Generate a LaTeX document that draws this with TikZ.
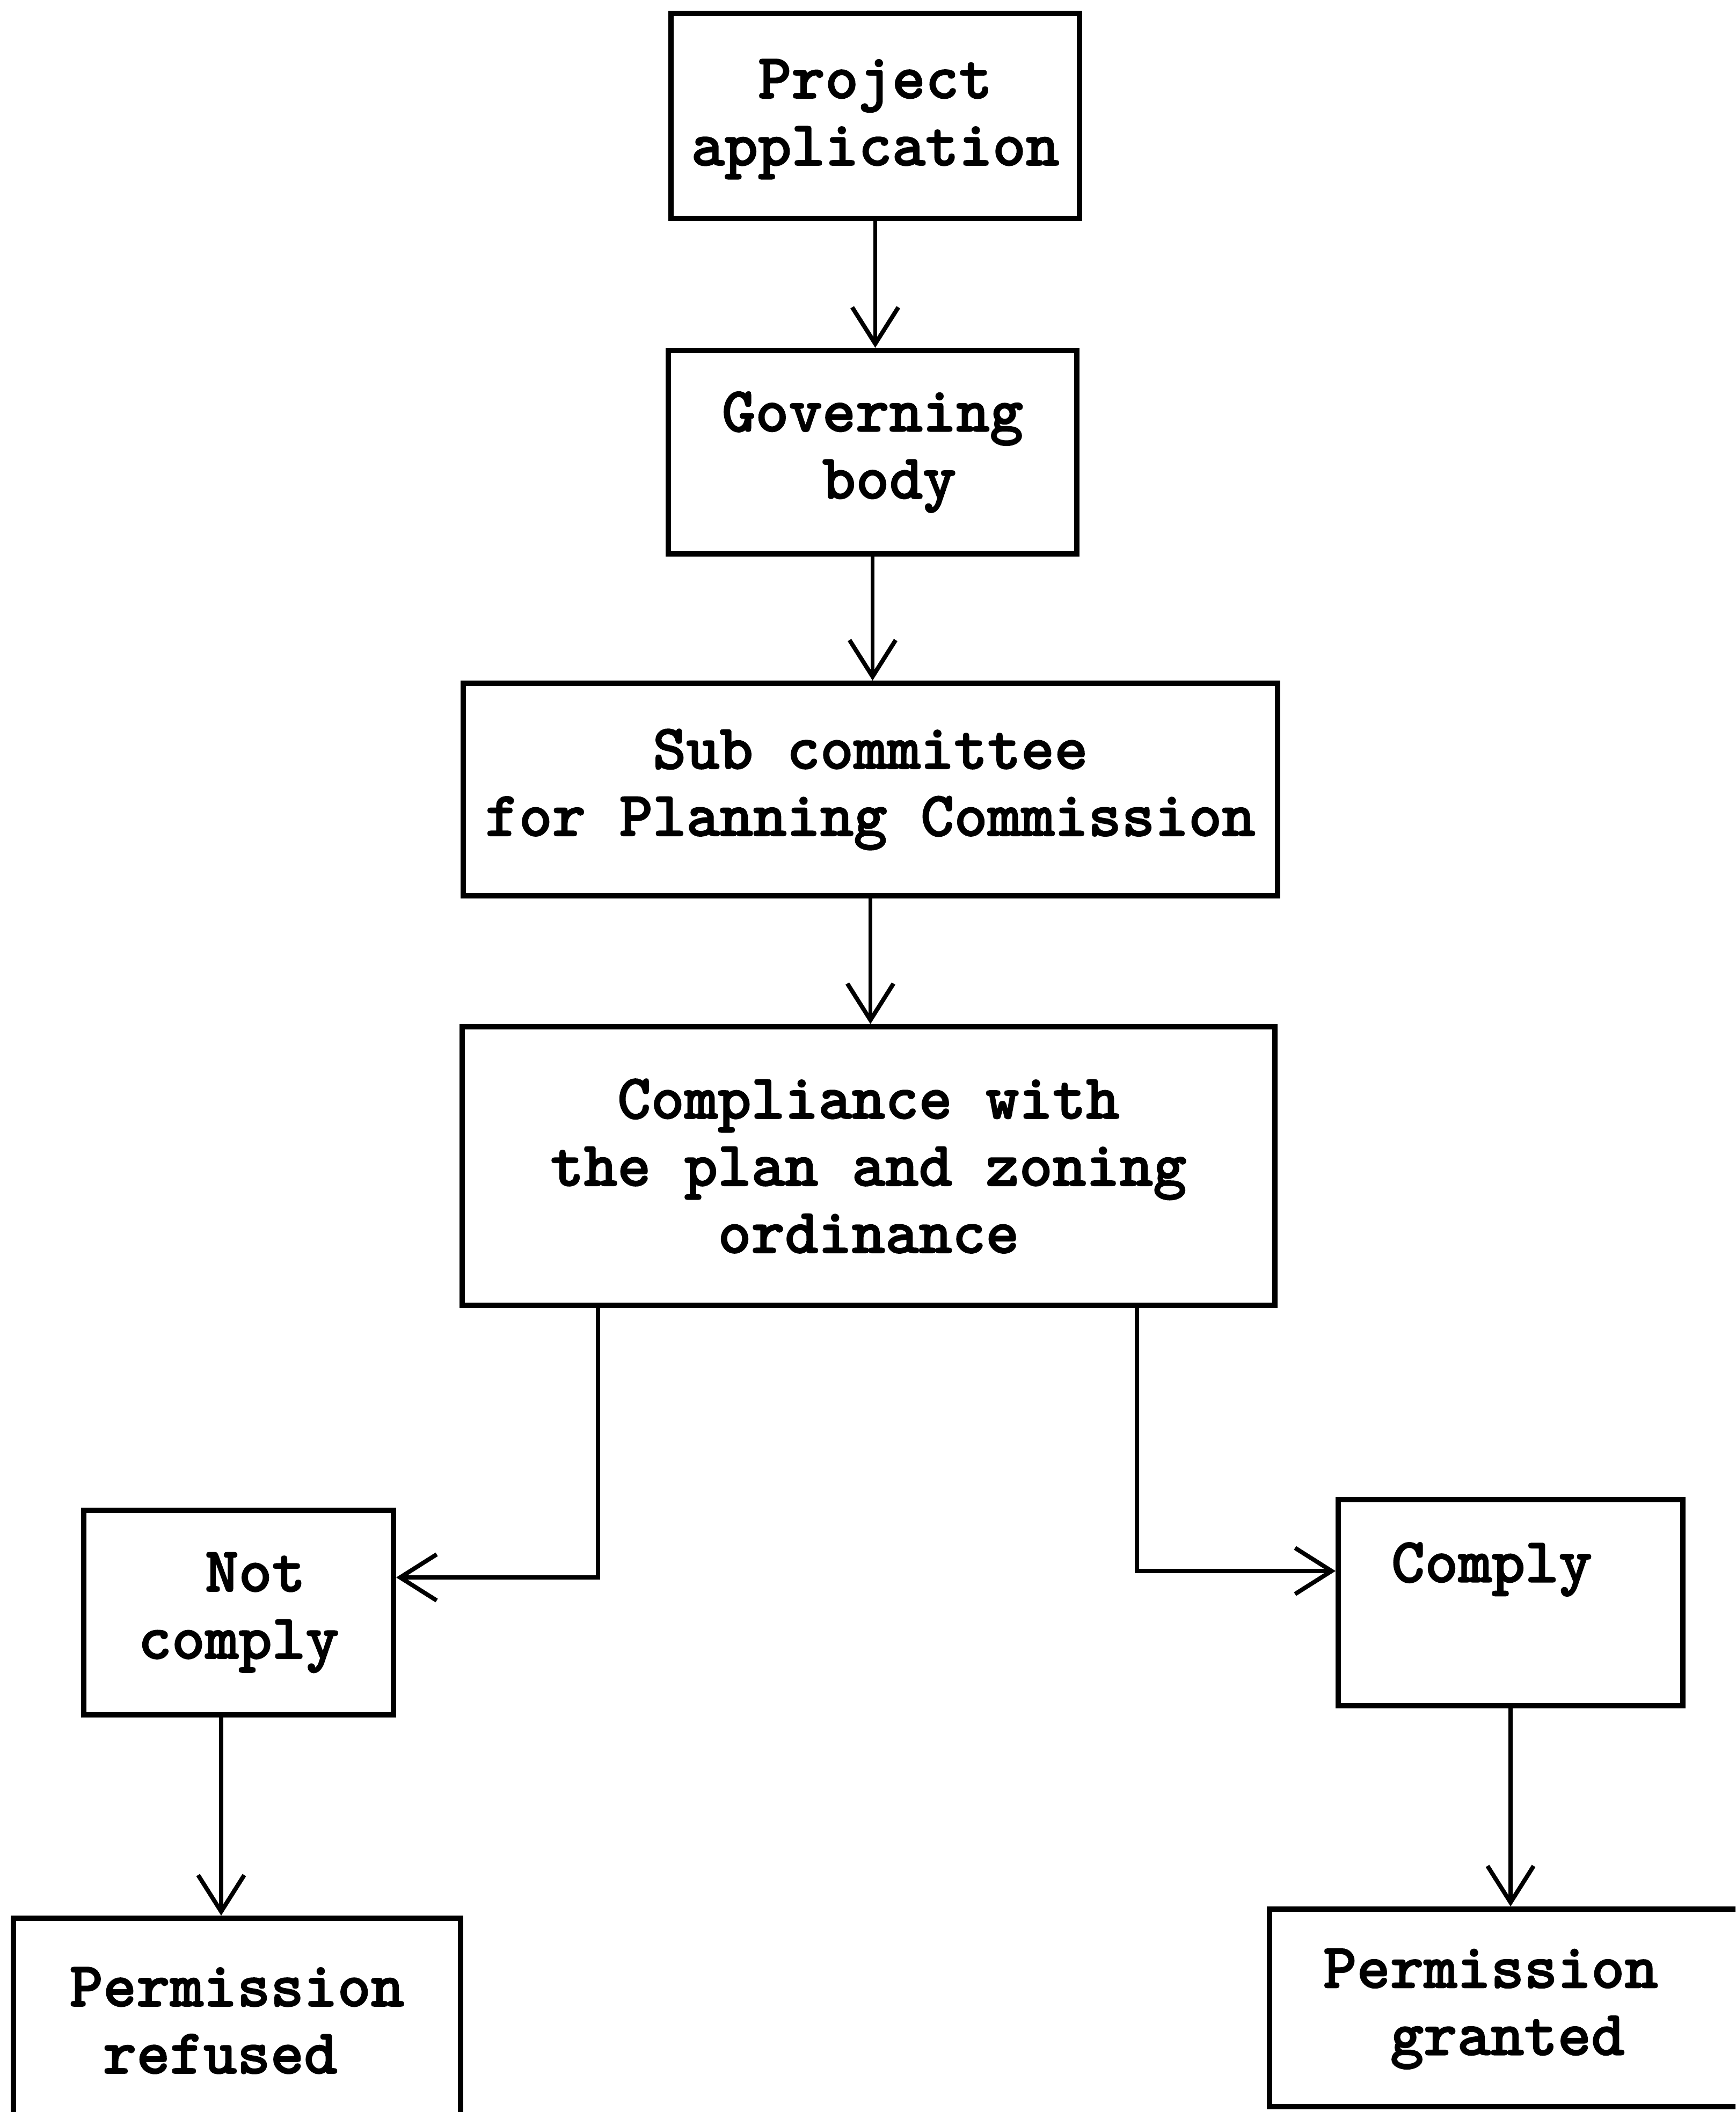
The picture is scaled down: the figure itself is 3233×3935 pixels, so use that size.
\documentclass[tikz,border=0pt]{standalone}
\usepackage{fontspec}
\newfontfamily\typebold{lmmonolt10-bold.otf}[FakeBold=1.6]
\usetikzlibrary{arrows.meta,fit,calc}
\begin{document}
\begin{tikzpicture}[x=0.05mm,y=-0.05mm,
  box/.style={draw, line width=0.5mm, inner sep=0pt, rectangle},
  lbl/.style={font=\typebold\fontsize{16.9pt}{17.8pt}\selectfont, align=center, inner sep=0pt},
  flow/.style={line width=0.38mm, -{Straight Barb[length=3.4mm,width=4.3mm,line width=0.4mm]}}]
\useasboundingbox (0,0) rectangle (3233,3935);
\clip (0,0) rectangle (3233,3935);

% boxes
\node[box, fit={(1250,25) (2011,407)}] (app) {};
\node[box, fit={(1245,653) (2006,1032)}] (gov) {};
\node[box, fit={(863,1273) (2380,1669)}] (sub) {};
\node[box, fit={(861,1913) (2375,2432)}] (comp) {};
\node[box, fit={(156,2814) (733,3195)}] (notc) {};
\node[box, fit={(2493,2794) (3135,3178)}] (comply) {};
\node[box, fit={(25,3574) (858,3955)}] (refused) {};
\node[box, fit={(2365,3557) (3270,3925)}] (granted) {};

% labels
\node[lbl] (app-t) at ($(app.center)+(0,6)$) {Project\\application};
\node[lbl] (gov-t) at (gov.center) {Governing\\\hphantom{x}body};
\node[lbl] (sub-t) at (sub.center) {Sub committee\\for Planning Commission};
\node[lbl] (comp-t) at (comp.center) {Compliance with\\the plan and zoning\\ordinance};
\node[lbl] (notc-t) at (notc.center) {\hphantom{x}Not\\comply};
\node[lbl] (comply-t) at (2779,2924) {Comply};
\node[lbl] (refused-t) at (refused.center) {Permission\\refused\hphantom{x}};
\node[lbl] (granted-t) at (2777,3743) {Permission\\\hphantom{x}granted};

% connectors
\coordinate (j1) at (1114,2939);
\coordinate (j2) at (2118,2927);
\coordinate (c5) at (412,0);

\draw[flow] (app.south) -- (app.south |- gov.north);
\draw[flow] (gov.south) -- (gov.south |- sub.north);
\draw[flow] (sub.south) -- (sub.south |- comp.north);
\draw[flow] (comp.south -| j1) -- (j1) -- (notc.east |- j1);
\draw[flow] (comp.south -| j2) -- (j2) -- (comply.west |- j2);
\draw[flow] (notc.south -| c5) -- (refused.north -| c5);
\draw[flow] (comply.south) -- (comply.south |- granted.north);
\end{tikzpicture}
\end{document}
